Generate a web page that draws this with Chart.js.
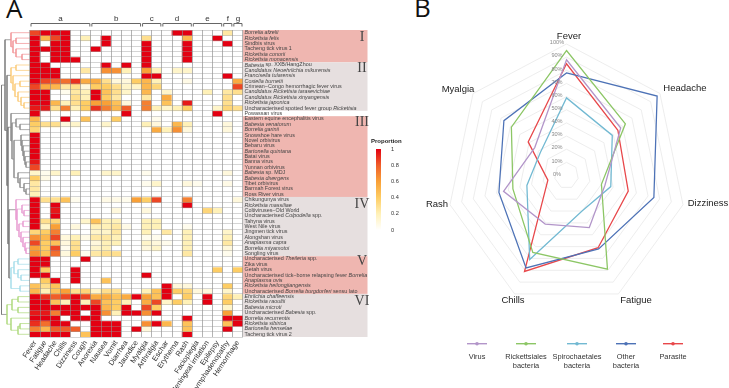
<!DOCTYPE html>
<html>
<head>
<meta charset="utf-8">
<script src="https://cdn.jsdelivr.net/npm/chart.js@4/dist/chart.umd.js"></script>
<style>
html,body{margin:0;padding:0;background:#fff;width:729px;height:388px;overflow:hidden}
canvas{position:absolute;display:block}
.panel{position:absolute;font-family:"Open Sans",sans-serif;font-size:26px;line-height:26px;color:#111}
</style>
</head>
<body>
<div class="panel" style="left:6px;top:-5px">A</div>
<div class="panel" style="left:414px;top:-6px">B</div>
<canvas id="dend" style="left:0;top:30px;width:30px;height:307px"></canvas>
<canvas id="heat" style="left:0;top:0;width:400px;height:388px"></canvas>
<canvas id="bar" style="left:368px;top:136px;width:40px;height:100px"></canvas>
<canvas id="radar" style="left:405px;top:0;width:324px;height:388px"></canvas>
<script>
Chart.defaults.animation = false;
Chart.defaults.responsive = false;
Chart.defaults.font.family = '"Liberation Sans", Arial, sans-serif';

const symptoms = ["Fever","Fatigue","Headache","Chills","Dizziness","Cough","Anorexia","Nausea","Vomit","Diarrhea","Jaundice","Myalgia","Arthralgia","Eschar","Erythema","Rash","Facioplegia","Meningeal irritation","Epilepsy","Lymphadenopathy","Hemorrhage"];
const pathogens = ["Borrelia afzelii","Rickettsia felis","Sindbis virus","Tacheng tick virus 1","Rickettsia conorii","Rickettsia monacensis",
"Babesia sp. XXB/HangZhou","Candidatus Neoehrlichia mikurensis","Francisella tularensis","Coxiella burnetii","Crimean−Congo hemorrhagic fever virus","Candidatus Rickettsia tarasevichiae","Candidatus Rickettsia xinyangensis","Rickettsia japonica","Uncharacterised spotted fever group Rickettsia",
"Powassan virus",
"Eastern equine encephalitis virus","Babesia venatorum","Borrelia garinii","Snowshoe hare virus","Novel orbivirus","Bebaru virus","Bartonella quintana","Batai virus","Banna virus","Yunnan orbivirus","Babesia sp. MDJ","Babesia divergens","Tibet orbivirus","Barmah Forest virus","Ross River virus",
"Chikungunya virus","Rickettsia massiliae","Coltiviruses−Old World","Uncharacterised Colpodella spp.","Tahyna virus","West Nile virus","Jingmen tick virus","Alongshan virus","Anaplasma capra","Borrelia miyamotoi","Songling virus",
"Uncharacterised Theileria spp.","Zika virus","Getah virus","Uncharacterised tick−borne relapsing fever Borrelia","Anaplasma ovis","Rickettsia heilongjiangensis","Uncharacterised Borrelia burgdorferi sensu lato",
"Ehrlichia chaffeensis","Rickettsia raoultii","Babesia microti","Uncharacterised Babesia spp.","Borrelia recurrentis","Rickettsia sibirica","Bartonella henselae","Tacheng tick virus 2"];
const italicParts = ["Borrelia afzelii","Rickettsia felis","","","Rickettsia conorii","Rickettsia monacensis",
"Babesia","Candidatus Neoehrlichia mikurensis","Francisella tularensis","Coxiella burnetii","","Candidatus Rickettsia tarasevichiae","Candidatus Rickettsia xinyangensis","Rickettsia japonica","Rickettsia",
"",
"","Babesia venatorum","Borrelia garinii","","","","Bartonella quintana","","","","Babesia","Babesia divergens","","","",
"","Rickettsia massiliae","","Colpodella","","","","","Anaplasma capra","Borrelia miyamotoi","",
"Theileria","","","Borrelia","Anaplasma ovis","Rickettsia heilongjiangensis","Borrelia burgdorferi",
"Ehrlichia chaffeensis","Rickettsia raoultii","Babesia microti","Babesia","Borrelia recurrentis","Rickettsia sibirica","Bartonella henselae",""];

const proportion = [
[.85,1,1,1,0,0,0,0,0,0,0,0,0,0,1,1,0,0,0,.25,0],
[1,.5,.85,1,0,.2,0,1,0,0,0,.3,0,0,0,.5,0,0,1,0,0],
[1,0,1,1,0,0,0,1,0,0,0,1,0,0,0,1,0,0,0,1,0],
[1,1,1,1,0,0,1,0,0,0,0,1,0,0,0,1,0,0,0,0,0],
[1,0,1,1,0,0,0,0,0,0,0,1,0,0,0,1,0,0,0,0,0],
[1,0,1,1,1,0,0,0,0,0,0,1,0,0,0,1,0,0,0,0,0],
[1,1,0,0,0,0,0,1,0,1,0,1,0,0,0,0,0,0,0,0,0],
[1,1,1,0,0,.25,0,.65,.65,.2,0,.6,.2,0,.15,.15,0,0,0,0,0],
[1,1,1,0,0,0,0,0,0,0,0,1,1,0,0,0,0,0,0,1,0],
[1,.85,.8,.75,.9,.55,.55,.3,.1,.1,.4,.5,.2,0,0,.07,0,0,0,0,.55],
[.85,.55,.5,.25,.3,.1,.4,.4,.3,.15,.15,.5,.35,0,0,0,0,0,0,0,.85],
[1,1,0,.05,.25,.2,1,.45,.3,.15,0,.5,0,.15,0,0,0,.2,0,.25,.3],
[1,1,0,0,.3,.2,1,.4,.25,0,0,.25,0,.55,0,0,0,0,0,.3,0],
[1,1,.5,.2,.3,.4,.6,.6,.45,.1,0,.7,0,.45,0,.95,0,0,0,.3,0],
[.95,.95,.3,.7,.2,.4,.9,.7,.5,.8,0,.7,.2,.15,.2,.4,0,0,.15,.35,.3],
[1,0,0,0,0,0,0,0,0,1,0,0,0,0,0,0,0,0,1,0,0],
[.5,0,0,1,0,.45,0,0,.4,0,0,0,.05,0,0,0,0,0,0,0,0],
[.4,.3,.3,.1,.15,0,0,.15,0,0,0,.2,.1,0,.5,.2,0,0,0,.1,0],
[.35,0,0,0,0,0,0,0,0,0,0,0,.55,.2,.65,.1,0,0,0,.1,0],
[1,0,0,0,0,0,0,0,0,0,0,0,0,0,0,0,0,0,0,0,0],
[1,0,0,0,0,0,0,0,0,0,0,0,0,0,0,0,0,0,0,0,0],
[1,0,0,0,0,0,0,0,0,0,0,0,0,0,0,0,0,0,0,0,0],
[1,0,0,0,0,0,0,0,0,0,0,0,0,0,0,0,0,0,0,0,0],
[1,0,0,0,0,0,0,0,0,0,0,0,0,0,0,0,0,0,0,0,0],
[.95,0,0,0,0,0,0,0,0,0,0,0,0,0,0,0,0,0,0,0,0],
[.85,0,0,0,0,0,0,0,0,0,0,0,0,0,0,0,0,0,0,0,0],
[.15,.05,.15,0,.2,0,0,.15,.15,0,0,.05,0,0,0,0,0,0,0,.1,0],
[.4,.07,0,0,0,0,0,0,0,0,0,0,0,0,0,0,0,0,0,0,0],
[.25,0,0,0,0,0,0,0,0,0,0,.05,.15,0,0,.1,.05,0,0,.07,0],
[.25,0,0,0,0,0,0,0,0,0,0,0,0,0,0,0,0,0,0,0,0],
[.2,0,0,0,0,0,0,0,0,0,0,0,0,0,0,0,0,0,0,0,0],
[1,.3,.3,.45,.05,0,0,.07,.07,.05,.6,.4,.85,0,0,.7,0,0,0,0,.1],
[1,0,1,0,0,0,0,0,0,0,0,0,0,0,0,1,0,0,0,0,0],
[1,0,.95,0,0,0,0,0,.1,0,0,.1,0,0,0,0,0,.35,.2,0,0],
[1,0,1,0,0,0,0,0,0,0,0,0,0,0,0,0,0,0,0,0,0],
[1,.3,.35,0,0,.15,.45,.2,.2,0,0,.2,.2,0,0,0,0,0,0,0,0],
[1,.15,.6,0,.1,0,.2,.2,.25,.07,0,.2,.2,0,0,.05,0,0,0,0,0],
[.35,.4,.7,0,0,0,.15,.15,.25,0,0,.2,0,.25,0,.2,0,0,0,.15,0],
[.65,.5,.85,.1,.2,.07,.25,.25,.2,0,0,.05,.05,0,0,.2,0,0,0,.2,0],
[.85,.4,.45,.1,.3,0,.1,.2,.2,0,0,.15,.1,.05,0,.2,0,0,0,.25,0],
[.6,.4,.85,.05,.3,0,.15,.2,0,0,0,.1,.15,0,0,.2,0,0,0,.1,0],
[.65,.45,.75,.1,.4,.05,.25,.3,.3,0,0,0,0,0,0,.25,0,0,0,.05,0],
[1,1,0,0,0,1,0,0,0,0,0,0,0,0,0,0,0,0,0,0,0],
[1,1,0,0,0,0,0,0,0,0,0,0,0,0,0,0,0,0,0,0,0],
[1,.4,0,0,1,0,0,0,0,0,0,0,0,0,0,0,0,0,.4,0,.4],
[1,1,0,0,1,0,0,0,0,0,0,1,0,0,0,0,0,0,0,0,0],
[0,.4,1,0,1,0,0,.45,0,0,0,0,0,0,0,0,0,0,0,0,0],
[.45,.3,.45,0,0,0,0,0,0,0,0,0,0,1,.1,.1,0,0,0,.4,0],
[.5,.2,.45,.6,.3,.35,.15,.3,.3,0,0,.2,.45,1,.4,.35,.1,.1,0,.15,0],
[1,.9,.8,.85,1,.85,.55,.55,.45,.55,1,.6,.45,1,0,.4,0,1,0,.35,.2],
[1,1,.45,.2,1,.2,.85,.45,.4,.2,0,.55,.85,.15,.4,.2,0,1,0,.4,0],
[1,1,1,1,1,1,1,.5,.4,1,0,.85,.4,0,0,0,0,0,0,.15,0],
[.95,.95,.7,1,1,0,1,.65,.2,1,1,.65,1,0,0,0,0,0,0,.6,0],
[1,1,1,0,1,1,1,0,0,0,0,0,0,0,0,1,0,0,0,1,1],
[.9,.75,1,1,0,0,1,1,1,0,0,.65,1,.5,0,.45,0,0,0,.45,1],
[.7,.5,.8,.8,.8,0,1,1,1,0,1,.1,0,0,0,.45,0,0,0,1,0],
[1,1,1,1,0,.45,1,1,1,0,0,0,0,0,0,1,0,0,0,0,0]
];

const groupNames = ["a","b","c","d","e","f","g"];
const groupSpans = [[0,5],[6,10],[11,12],[13,15],[16,18],[19,19],[20,20]];
const bandRows = [[0,5,"I"],[6,14,"II"],[16,30,"III"],[31,41,"IV"],[42,48,"V"],[49,56,"VI"]];
const bandColors = ["#efb6b0","#e6dfdf","#efb6b0","#e6dfdf","#efb6b0","#e6dfdf"];

const colorStops = [[0,[255,255,255]],[.2,[255,241,184]],[.4,[254,205,100]],[.6,[249,160,55]],[.8,[240,94,42]],[1,[227,0,18]]];
function cellColor(v){
  for(let i=1;i<colorStops.length;i++){
    if(v<=colorStops[i][0]){
      const a=colorStops[i-1],b=colorStops[i],t=(v-a[0])/(b[0]-a[0]);
      const c=a[1].map((x,j)=>Math.round(x+(b[1][j]-x)*t));
      return `rgb(${c[0]},${c[1]},${c[2]})`;
    }
  }
  return "rgb(227,0,18)";
}

/* dendrogram: [merge height, left child, right child]; a number is a row */
const cladeI = [19,0,[17,[14,1,2],[14,3,[8,4,5]]]];
const cladeII = [19,[14,6,7],[17,8,[15,[10,9,10],[12,11,[9,12,[6,13,14]]]]]];
const cladeIII = [19,15,[18,[14,16,[10,17,18]],[16,[9,19,[8,20,[7,21,[6,22,[5,23,[4,24,25]]]]]],[12,26,[10,27,[6,28,[4,29,30]]]]]]];
const cladeIV = [14,31,[13,[8,32,[6,33,34]],[11,[7,35,36],[9,37,[7,38,[5,39,[4,40,41]]]]]]];
const cladeV = [19,[16,[12,42,43],[12,44,[9,45,46]]],[10,47,48]];
const cladeVI = [23,[18,[12,49,50],[12,51,52]],[19,53,[12,[10,54,55],56]]];
const cladeColors = ["#f08f92","#fbc873","#8a8a8a","#e79ad0","#a4dcea","#acd97a"];
const cladeList = [cladeI,cladeII,cladeIII,cladeIV,cladeV,cladeVI];
const backbone = [28.5,[25,"I",[23,"II",[22,"III",[21,"IV","V"]]]],"VI"];
const cladeKeys = {I:0,II:1,III:2,IV:3,V:4,VI:5};

function walk(node,pts){
  if(typeof node==="number") return {x:0,y:node+.5};
  if(typeof node==="string"){ return cladeTops[cladeKeys[node]]; }
  const a=walk(node[1],pts),b=walk(node[2],pts),h=node[0];
  pts.push({x:a.x,y:a.y},{x:h,y:a.y},{x:h,y:b.y},{x:b.x,y:b.y},{x:null,y:null});
  return {x:h,y:(a.y+b.y)/2};
}
const cladeTops=[];
const dendSets=cladeList.map((t,i)=>{const pts=[];cladeTops[i]=walk(t,pts);return {data:pts,borderColor:cladeColors[i],borderWidth:.7,pointRadius:0,showLine:true,spanGaps:false,clip:false};});
const backbonePts=[];walk(backbone,backbonePts);
dendSets.push({data:backbonePts,borderColor:"#777",borderWidth:.7,pointRadius:0,showLine:true,spanGaps:false,clip:false});

new Chart(document.getElementById("dend"),{
  type:"scatter",
  data:{datasets:dendSets},
  options:{devicePixelRatio:1,layout:{padding:0},plugins:{legend:{display:false},tooltip:{enabled:false}},
    scales:{x:{type:"linear",display:false,min:0,max:30,reverse:true},y:{type:"linear",display:false,min:0,max:57,reverse:true}}}
});

const heatDecor = {
  id:"heatDecor",
  beforeDatasetsDraw(chart){
    const c=chart.ctx,y=chart.scales.y,right=chart.chartArea.right;
    bandRows.forEach((b,i)=>{
      c.fillStyle=bandColors[i];
      const t=y.getPixelForValue(b[0]),e=y.getPixelForValue(b[1]+1);
      c.fillRect(right,t,367.5-right,e-t);
    });
  },
  afterDraw(chart){
    const c=chart.ctx,y=chart.scales.y,x=chart.scales.x,a=chart.chartArea;
    const w=x.getPixelForValue(1)-x.getPixelForValue(0);
    c.save();
    c.textBaseline="middle";
    pathogens.forEach((name,i)=>{
      const py=y.getPixelForValue(i+.5);
      const it=italicParts[i];
      let parts=[[name,false]];
      if(it){const k=name.indexOf(it);parts=[[name.slice(0,k),false],[it,true],[name.slice(k+it.length),false]];}
      let px=a.right+1.5;
      c.textAlign="left";
      c.fillStyle="#444";
      parts.forEach(p=>{ if(!p[0])return;
        c.font=(p[1]?"italic ":"")+'5.4px "Liberation Sans", Arial, sans-serif';
        c.fillText(p[0],px,py);px+=c.measureText(p[0]).width;});
    });
    /* roman numerals */
    c.font='14px "Liberation Serif", serif';c.fillStyle="#444";c.textAlign="center";
    const numeralRow=[1.3,7.2,17.2,32.3,43,50.3];
    bandRows.forEach((b,i)=>{c.fillText(b[2],362,y.getPixelForValue(numeralRow[i]));});
    /* brackets */
    c.strokeStyle="#666";c.lineWidth=1;c.fillStyle="#333";c.textAlign="center";c.font='8px "Liberation Sans", Arial, sans-serif';
    groupSpans.forEach((g,i)=>{
      const l=x.getPixelForValue(g[0])-w/2+1,r=x.getPixelForValue(g[1])+w/2-1;
      c.beginPath();c.moveTo(l,26.5);c.lineTo(l,23.5);c.lineTo(r,23.5);c.lineTo(r,26.5);c.stroke();
      c.fillText(groupNames[i],(l+r)/2,19);
    });
    c.restore();
  }
};

new Chart(document.getElementById("heat"),{
  type:"bar",
  data:{labels:symptoms,datasets:pathogens.map((name,i)=>({
    label:name,
    data:symptoms.map(()=>1),
    backgroundColor:proportion[i].map(cellColor),
    borderWidth:0,
    categoryPercentage:1,barPercentage:1
  }))},
  options:{devicePixelRatio:1,
    layout:{padding:{left:30,top:30,right:157,bottom:0}},
    plugins:{legend:{display:false},tooltip:{enabled:false}},
    scales:{
      x:{stacked:true,grid:{display:true,z:1,drawTicks:false,offset:true,color:"rgba(140,140,140,.65)",lineWidth:1},border:{display:false},
        afterFit(s){s.height=51;},
        ticks:{autoSkip:false,minRotation:56,maxRotation:56,padding:2,color:"#333",font:{size:7.4}}},
      y:{stacked:true,reverse:true,min:0,max:57,
        grid:{display:true,z:1,drawTicks:false,color:"rgba(150,150,150,.4)",lineWidth:1},border:{display:false},
        afterFit(s){s.width=0;},
        ticks:{display:false,stepSize:1,autoSkip:false}}
    }},
  plugins:[heatDecor]
});

/* colour bar */
const barTicks=[0,.2,.4,.6,.8,1];
new Chart(document.getElementById("bar"),{
  type:"bar",
  data:{labels:["Proportion"],datasets:[{data:[[0,1]],categoryPercentage:1,barPercentage:1,
    backgroundColor(ctx){
      const a=ctx.chart.chartArea; if(!a) return "#e30012";
      const g=ctx.chart.ctx.createLinearGradient(0,a.bottom,0,a.top);
      colorStops.forEach(s=>g.addColorStop(s[0],cellColor(s[0])));
      return g;}
  }]},
  options:{devicePixelRatio:1,
    layout:{padding:{left:8,top:13,right:0,bottom:6}},
    plugins:{legend:{display:false},tooltip:{enabled:false}},
    scales:{
      x:{display:false},
      y:{position:"right",min:0,max:1,grid:{display:false},border:{display:false},
        afterBuildTicks(s){s.ticks=barTicks.map(v=>({value:v}));},
        afterFit(s){s.width=27;},
        ticks:{padding:2,color:"#333",font:{size:5.6},callback:v=>String(v)}}
    }},
  plugins:[{id:"barTitle",afterDraw(chart){const c=chart.ctx;c.save();c.font='600 6px "Liberation Sans", Arial, sans-serif';c.fillStyle="#222";c.textBaseline="middle";c.textAlign="left";c.fillText(chart.data.labels[0],3,5.5);c.restore();}}]
});

/* radar */
const axes=["Fever","Headache","Dizziness","Fatigue","Chills","Rash","Myalgia"];
const virus=[88,58,33,44,41,54,34];
const rickettsiales=[95,63,30,79,65,46,59];
const spirochaetales=[59,49,38,30,71,34,28];
const otherBacteria=[78,97,75,62,78,58,67];
const parasite=[85,55,53,61,81,16,41];
const seriesLabels=[["Virus"],["Rickettsiales","bacteria"],["Spirochaetales","bacteria"],["Other","bacteria"],["Parasite"]];
const seriesColors=["#b295c9","#8cc665","#72b9d2","#4d72b6","#e8474a"];
const seriesValues=[virus,rickettsiales,spirochaetales,otherBacteria,parasite];
const radarOrigin={left:405},radarCenter={x:566.5,y:175.5},radarRadius={x:119.5,y:131.5};
const axisLabelAt=[[569,36],[685,88.7],[708,203.5],[636,300],[513,300],[437,204],[458,89]];
const legendCenters=[477,526,577,626,673];

const radarDecor={
  id:"radarDecor",
  beforeDraw(chart){
    const s=chart.scales.r,c=chart.ctx;
    c.save();
    c.translate(radarCenter.x-radarOrigin.left,radarCenter.y);
    c.scale(radarRadius.x/s.drawingArea,radarRadius.y/s.drawingArea);
    c.translate(-s.xCenter,-s.yCenter);
  },
  afterDraw(chart){
    const s=chart.scales.r,c=chart.ctx,L=radarOrigin.left;
    c.restore();
    c.save();
    /* tick labels */
    c.font='5.6px "Liberation Sans", Arial, sans-serif';c.fillStyle="#8a8a8a";c.textAlign="center";c.textBaseline="middle";
    s.ticks.forEach(t=>{
      const d=s.getDistanceFromCenterForValue(t.value)*radarRadius.y/s.drawingArea;
      c.fillText(t.value+"%",557-L,radarCenter.y-1.3-d);
    });
    /* axis labels */
    c.font='9.5px "Liberation Sans", Arial, sans-serif';c.fillStyle="#222";
    axes.forEach((a,i)=>c.fillText(a,axisLabelAt[i][0]-L,axisLabelAt[i][1]));
    /* legend */
    seriesLabels.forEach((lab,i)=>{
      const x=legendCenters[i]-L;
      c.strokeStyle=seriesColors[i];c.lineWidth=1.4;c.beginPath();c.moveTo(x-10,343.7);c.lineTo(x+10,343.7);c.stroke();
      c.fillStyle=seriesColors[i];c.beginPath();c.arc(x,343.7,1.8,0,Math.PI*2);c.fill();
      c.fillStyle="#333";c.font='7.4px "Liberation Sans", Arial, sans-serif';
      lab.forEach((t,j)=>c.fillText(t,x,357+j*9));
    });
    c.restore();
  }
};
new Chart(document.getElementById("radar"),{
  type:"radar",
  data:{labels:axes,datasets:seriesValues.map((v,i)=>({
    label:seriesLabels[i].join(" "),data:v,borderColor:seriesColors[i],borderWidth:1.3,
    backgroundColor:"transparent",pointRadius:0,fill:false,tension:0,clip:false
  }))},
  options:{devicePixelRatio:1,layout:{padding:40},
    plugins:{legend:{display:false},tooltip:{enabled:false}},
    scales:{r:{min:0,max:100,
      angleLines:{display:false},
      grid:{color:"#e9e9e9",lineWidth:.8},
      pointLabels:{display:false},
      ticks:{display:false,stepSize:10}
    }}},
  plugins:[radarDecor]
});
</script>
</body>
</html>
